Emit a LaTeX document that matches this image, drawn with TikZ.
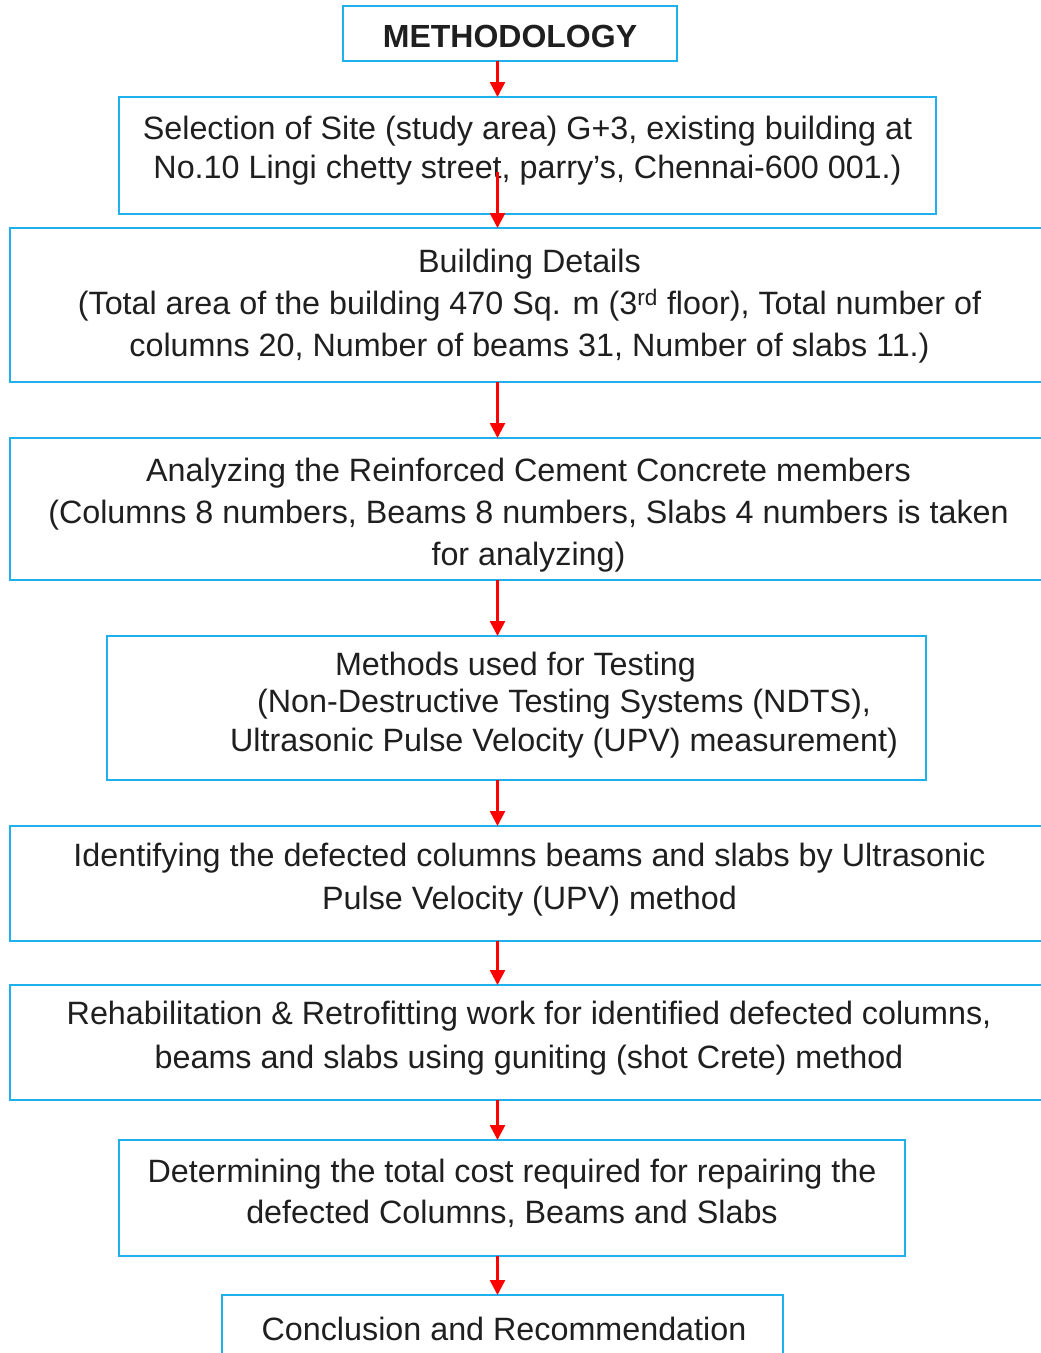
\documentclass[tikz,border=0pt]{standalone}
\usepackage{fontspec}
\setmainfont{Liberation Sans}
\usetikzlibrary{arrows.meta}
\definecolor{boxblue}{HTML}{1EB1EC}
\definecolor{arrred}{HTML}{FF0000}
\begin{document}
\begin{tikzpicture}[x=1pt,y=-1pt,
  box/.style={draw=boxblue, line width=2.5pt, inner sep=0pt, outer sep=0pt, rectangle},
  txt/.style={align=center, inner sep=0pt, text=black!88},
  flow/.style={draw=arrred, line width=2.5pt, -{Triangle[width=15pt,length=15pt]}}]
\useasboundingbox (0,0) rectangle (1041,1353);
\clip (0,0) rectangle (1041,1353);
\fill[white] (0,0) rectangle (1041,1353);
\coordinate (ax) at (497.5,0);

% boxes
\node[box, minimum width=334pt, minimum height=55pt] (b1) at (510,33.5) {};
\node[box, minimum width=817pt, minimum height=117pt] (b2) at (527.5,155.5) {};
\node[box, minimum width=1070pt, minimum height=154pt] (b3) at (545,305) {};
\node[box, minimum width=1070pt, minimum height=142pt] (b4) at (545,509) {};
\node[box, minimum width=819pt, minimum height=144pt] (b5) at (516.5,708) {};
\node[box, minimum width=1070pt, minimum height=115pt] (b6) at (545,883.5) {};
\node[box, minimum width=1070pt, minimum height=115pt] (b7) at (545,1042.5) {};
\node[box, minimum width=786pt, minimum height=116pt] (b8) at (512,1198) {};
\node[box, minimum width=561pt, minimum height=110pt] (b9) at (502.5,1350) {};

% texts
\node[txt, font=\fontsize{32}{38}\bfseries\selectfont] (t1) at (510,36) {METHODOLOGY};
\node[txt, font=\fontsize{32.3}{39}\selectfont] (t2) at (527.5,151) {Selection of Site (study area) G+3, existing building at\\No.10 Lingi chetty street, parry’s, Chennai-600 001.)};
\node[txt, font=\fontsize{32.3}{42}\selectfont] (t3) at (529.5,306) {Building Details\\(Total area of the building 470 Sq. m (3\textsuperscript{rd} floor), Total number of\\columns 20, Number of beams 31, Number of slabs 11.)};
\node[txt, font=\fontsize{32.3}{42}\selectfont] (t4) at (528.5,515) {Analyzing the Reinforced Cement Concrete members\\(Columns 8 numbers, Beams 8 numbers, Slabs 4 numbers is taken\\for analyzing)};
\node[txt, font=\fontsize{32.3}{38}\selectfont] (t5a) at (515.5,667) {Methods used for Testing};
\node[txt, font=\fontsize{32.3}{39}\selectfont] (t5b) at (564,723.5) {(Non-Destructive Testing Systems (NDTS),\\Ultrasonic Pulse Velocity (UPV) measurement)};
\node[txt, font=\fontsize{32.3}{43}\selectfont] (t6) at (529.5,880) {Identifying the defected columns beams and slabs by Ultrasonic\\Pulse Velocity (UPV) method};
\node[txt, font=\fontsize{32.3}{44}\selectfont] (t7) at (529,1038.5) {Rehabilitation \& Retrofitting work for identified defected columns,\\beams and slabs using guniting (shot Crete) method};
\node[txt, font=\fontsize{32.3}{41}\selectfont] (t8) at (512,1193.5) {Determining the total cost required for repairing the\\defected Columns, Beams and Slabs};
\node[txt, font=\fontsize{32.3}{40}\selectfont] (t9) at (504,1329) {Conclusion and Recommendation};

% connectors
\coordinate (s2) at (497.5,172);
\draw[flow] (b1.south -| ax) -- (b2.north -| ax);
\draw[flow] (s2) -- (b3.north -| ax);
\draw[flow] (b3.south -| ax) -- (b4.north -| ax);
\draw[flow] (b4.south -| ax) -- (b5.north -| ax);
\draw[flow] (b5.south -| ax) -- (b6.north -| ax);
\draw[flow] (b6.south -| ax) -- (b7.north -| ax);
\draw[flow] (b7.south -| ax) -- (b8.north -| ax);
\draw[flow] (b8.south -| ax) -- (b9.north -| ax);
\end{tikzpicture}
\end{document}
